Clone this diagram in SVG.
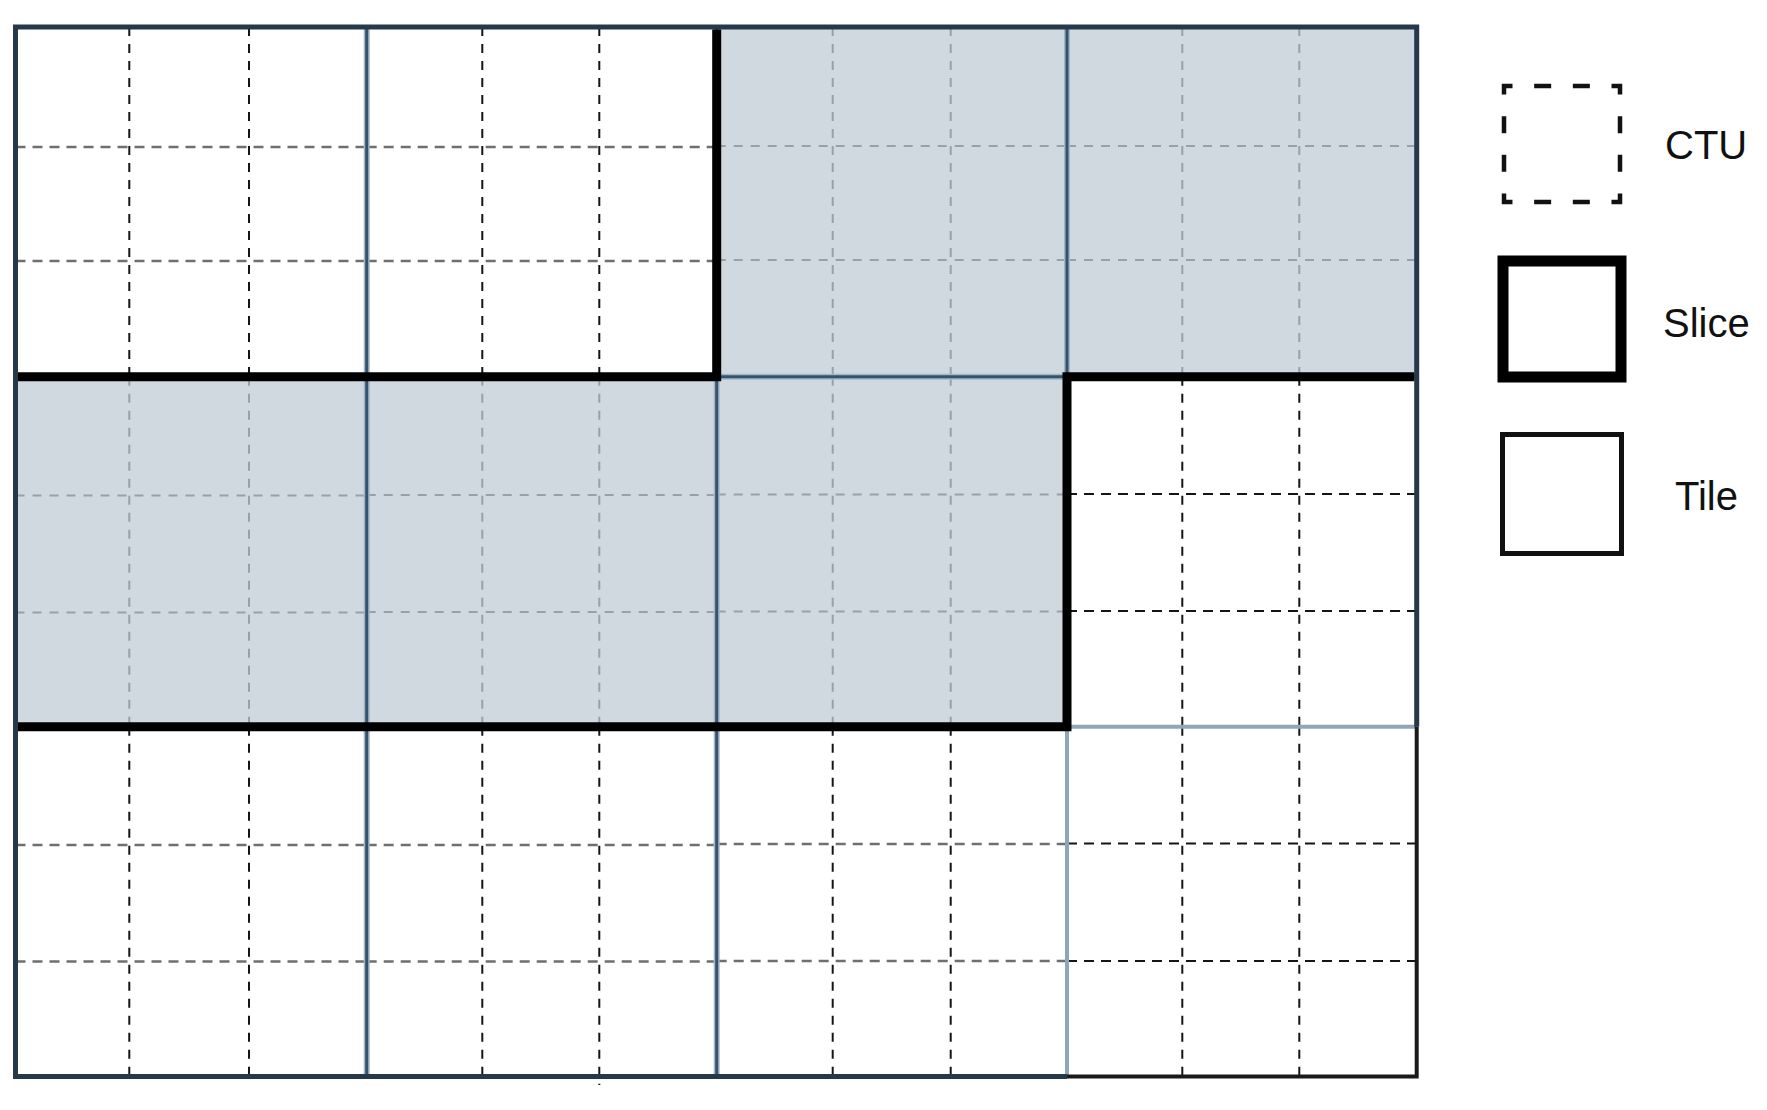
<svg xmlns="http://www.w3.org/2000/svg" width="1767" height="1110" viewBox="0 0 1767 1110">
<style>
.bg{fill:#ffffff}
.tw{fill:#ffffff}
.ts{fill:#d0d8e0}
.cv{stroke:#151515;stroke-width:2;stroke-dasharray:9 8;fill:none}
.ch{stroke:#6f6f6f;stroke-width:2.5;stroke-dasharray:10 7;fill:none}
.chb{stroke:#151515;stroke-width:2;stroke-dasharray:10 7;fill:none}
.cs{stroke:#98a1aa;stroke-width:2;stroke-dasharray:9 8;fill:none}
.th{stroke:#a3b6c6;stroke-width:6;fill:none}
.tb{stroke:#36536d;stroke-width:3;fill:none}
.tbl{stroke:#8fa6b9;stroke-width:4;fill:none}
.sl{stroke:#000000;stroke-width:9;fill:none;stroke-linejoin:miter}
.ob{stroke:#26394b;stroke-width:5;fill:none}
.lbl{font-family:"Liberation Sans",Arial,Helvetica,sans-serif;font-size:40px;fill:#111111}
</style>
<rect class="bg" x="0" y="0" width="1767" height="1110"/>

<g id="tiles">
  <g id="tile-r1c1"><rect class="tw" x="15.5" y="27" width="351.2" height="349.7"/>
    <line class="cv" x1="129.3" y1="27" x2="129.3" y2="376.7"/><line class="cv" x1="249" y1="27" x2="249" y2="376.7"/>
    <line class="ch" x1="15.5" y1="147" x2="366.7" y2="147"/><line class="ch" x1="15.5" y1="261" x2="366.7" y2="261"/></g>
  <g id="tile-r1c2"><rect class="tw" x="366.7" y="27" width="350" height="349.7"/>
    <line class="cv" x1="482.3" y1="27" x2="482.3" y2="376.7"/><line class="cv" x1="599.3" y1="27" x2="599.3" y2="376.7"/>
    <line class="ch" x1="366.7" y1="147" x2="716.7" y2="147"/><line class="ch" x1="366.7" y1="261" x2="716.7" y2="261"/></g>
  <g id="tile-r1c3"><rect class="ts" x="716.7" y="27" width="350.3" height="349.7"/>
    <line class="cs" x1="832.7" y1="27" x2="832.7" y2="376.7"/><line class="cs" x1="950.7" y1="27" x2="950.7" y2="376.7"/>
    <line class="cs" x1="716.7" y1="146" x2="1067" y2="146"/><line class="cs" x1="716.7" y1="260" x2="1067" y2="260"/></g>
  <g id="tile-r1c4"><rect class="ts" x="1067" y="27" width="349.7" height="349.7"/>
    <line class="cs" x1="1182.3" y1="27" x2="1182.3" y2="376.7"/><line class="cs" x1="1299.3" y1="27" x2="1299.3" y2="376.7"/>
    <line class="cs" x1="1067" y1="146" x2="1416.7" y2="146"/><line class="cs" x1="1067" y1="260" x2="1416.7" y2="260"/></g>

  <g id="tile-r2c1"><rect class="ts" x="15.5" y="376.7" width="351.2" height="350"/>
    <line class="cs" x1="129.3" y1="376.7" x2="129.3" y2="726.7"/><line class="cs" x1="249" y1="376.7" x2="249" y2="726.7"/>
    <line class="cs" x1="15.5" y1="495.5" x2="366.7" y2="495.5"/><line class="cs" x1="15.5" y1="612.5" x2="366.7" y2="612.5"/></g>
  <g id="tile-r2c2"><rect class="ts" x="366.7" y="376.7" width="350" height="350"/>
    <line class="cs" x1="482.3" y1="376.7" x2="482.3" y2="726.7"/><line class="cs" x1="599.3" y1="376.7" x2="599.3" y2="726.7"/>
    <line class="cs" x1="366.7" y1="495" x2="716.7" y2="495"/><line class="cs" x1="366.7" y1="612" x2="716.7" y2="612"/></g>
  <g id="tile-r2c3"><rect class="ts" x="716.7" y="376.7" width="350.3" height="350"/>
    <line class="cs" x1="832.7" y1="376.7" x2="832.7" y2="726.7"/><line class="cs" x1="950.7" y1="376.7" x2="950.7" y2="726.7"/>
    <line class="cs" x1="716.7" y1="494.5" x2="1067" y2="494.5"/><line class="cs" x1="716.7" y1="611.5" x2="1067" y2="611.5"/></g>
  <g id="tile-r2c4"><rect class="tw" x="1067" y="376.7" width="349.7" height="350"/>
    <line class="cv" x1="1182.3" y1="376.7" x2="1182.3" y2="726.7"/><line class="cv" x1="1299.3" y1="376.7" x2="1299.3" y2="726.7"/>
    <line class="chb" x1="1067" y1="494" x2="1416.7" y2="494"/><line class="chb" x1="1067" y1="611" x2="1416.7" y2="611"/></g>

  <g id="tile-r3c1"><rect class="tw" x="15.5" y="726.7" width="351.2" height="349.8"/>
    <line class="cv" x1="129.3" y1="726.7" x2="129.3" y2="1076.5"/><line class="cv" x1="249" y1="726.7" x2="249" y2="1076.5"/>
    <line class="ch" x1="15.5" y1="845" x2="366.7" y2="845"/><line class="ch" x1="15.5" y1="961.5" x2="366.7" y2="961.5"/></g>
  <g id="tile-r3c2"><rect class="tw" x="366.7" y="726.7" width="350" height="349.8"/>
    <line class="cv" x1="482.3" y1="726.7" x2="482.3" y2="1076.5"/><line class="cv" x1="599.3" y1="726.7" x2="599.3" y2="1085"/>
    <line class="ch" x1="366.7" y1="845" x2="716.7" y2="845"/><line class="ch" x1="366.7" y1="961.5" x2="716.7" y2="961.5"/></g>
  <g id="tile-r3c3"><rect class="tw" x="716.7" y="726.7" width="350.3" height="349.8"/>
    <line class="cv" x1="832.7" y1="726.7" x2="832.7" y2="1076.5"/><line class="cv" x1="950.7" y1="726.7" x2="950.7" y2="1076.5"/>
    <line class="ch" x1="716.7" y1="844" x2="1067" y2="844"/><line class="ch" x1="716.7" y1="961" x2="1067" y2="961"/></g>
  <g id="tile-r3c4"><rect class="tw" x="1067" y="726.7" width="349.7" height="349.8"/>
    <line class="cv" x1="1182.3" y1="726.7" x2="1182.3" y2="1076.5"/><line class="cv" x1="1299.3" y1="726.7" x2="1299.3" y2="1076.5"/>
    <line class="chb" x1="1067" y1="843.5" x2="1416.7" y2="843.5"/><line class="chb" x1="1067" y1="961" x2="1416.7" y2="961"/></g>
</g>

<g id="tile-boundaries">
  <path class="th" d="M366.7 27 V1076.5 M716.7 27 V1076.5 M1067 27 V726.7 M15.5 376.7 H1416.7 M15.5 726.7 H1067"/>
  <path class="tb" d="M366.7 27 V1076.5 M716.7 27 V1076.5 M1067 27 V726.7 M15.5 376.7 H1416.7 M15.5 726.7 H1067"/>
  <line class="tbl" x1="1067" y1="726.7" x2="1067" y2="1076.5"/>
  <line class="tbl" x1="1067" y1="726.7" x2="1416.7" y2="726.7"/>
</g>

<g id="outer-border">
  <path class="ob" d="M1067 1076.5 H15.5 V27 H1416.7 V726.7"/>
  <path d="M1416.7 726.7 V1076.5 H1067" fill="none" stroke="#1a1a1a" stroke-width="4"/>
</g>

<g id="slice-boundaries">
  <path class="sl" d="M716.7 29.5 V376.7 H18"/>
  <path class="sl" d="M1414.2 376.7 H1067 V726.7 H18"/>
</g>

<g id="legend">
  <g id="legend-ctu">
    <rect x="1504" y="86" width="116" height="116" fill="none" stroke="#111" stroke-width="4.5" stroke-dasharray="17 21.67" stroke-dashoffset="8.5"/>
    <text class="lbl" x="1665" y="159">CTU</text>
  </g>
  <g id="legend-slice">
    <rect x="1503" y="261" width="118" height="116" fill="none" stroke="#000" stroke-width="11"/>
    <text class="lbl" x="1663" y="337">Slice</text>
  </g>
  <g id="legend-tile">
    <rect x="1502.5" y="434.5" width="119" height="119" fill="none" stroke="#111" stroke-width="5"/>
    <text class="lbl" x="1675" y="510">Tile</text>
  </g>
</g>
</svg>
